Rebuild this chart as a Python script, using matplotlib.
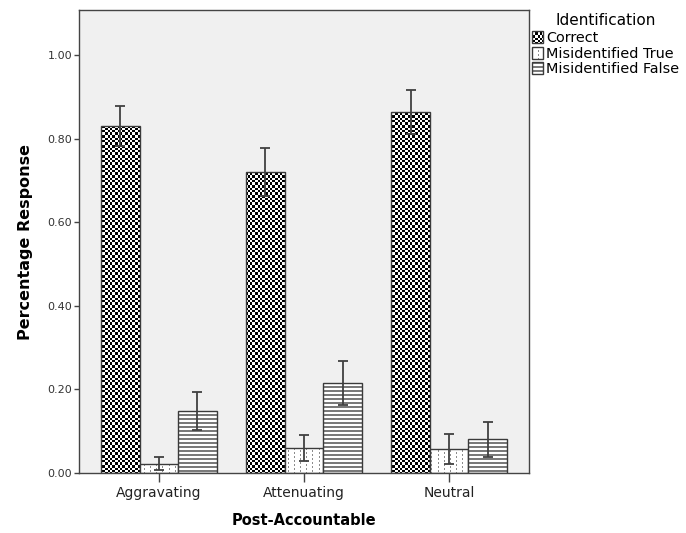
import warnings
warnings.filterwarnings("ignore")
import numpy as np
import matplotlib
matplotlib.use("Agg")
import matplotlib.pyplot as plt
import matplotlib.hatch as mhatch
from matplotlib.path import Path
from matplotlib.colors import to_rgba

# ---------------- data ----------------
categories = ["Aggravating", "Attenuating", "Neutral"]
series_names = ["Correct", "Misidentified True", "Misidentified False"]
correct = [0.830, 0.720, 0.864]
correct_err = [0.048, 0.058, 0.053]
mis_true = [0.022, 0.060, 0.057]
mis_true_err = [0.016, 0.032, 0.036]
mis_false = [0.148, 0.215, 0.081]
mis_false_err = [0.046, 0.052, 0.042]
y_ticks = [0.0, 0.2, 0.4, 0.6, 0.8, 1.0]


# ---------------- custom fill patterns ----------------
def _cell_edges():
    # 40 cells in a 100 px tile, pixel-aligned widths 2,3,3,2,...
    widths = [2, 3, 3, 2] * 10
    edges = np.concatenate([[0], np.cumsum(widths)]) / 100.0
    return edges


class PatternHatch(mhatch.HatchPatternBase):
    def __init__(self, hatch, density):
        rects = []
        if 'c' in hatch:  # checkerboard
            e = _cell_edges()
            n = len(e) - 1
            for i in range(n):
                for j in range(n):
                    if (i + j) % 2 == 0:
                        rects.append((e[i], e[j], e[i + 1] - e[i], e[j + 1] - e[j]))
        if 'h' in hatch:  # horizontal bands
            n = 25
            for j in range(n):
                rects.append((0.0, j / n, 1.0, 0.5 / n))
        if 'd' in hatch:  # sparse dots in columns
            ncol, nrow = 16, 25
            for i in range(ncol):
                xi = round(i * 100 / ncol) / 100.0
                for j in range(nrow):
                    off = 0.02 if i % 2 else 0.0
                    rects.append((xi, j / nrow + off, 0.01, 0.02))
        self.rects = rects
        self.num_vertices = 5 * len(rects)

    def set_vertices_and_codes(self, vertices, codes):
        for k, (x, y, w, h) in enumerate(self.rects):
            vertices[5 * k:5 * k + 5] = [(x, y), (x + w, y), (x + w, y + h),
                                         (x, y + h), (x, y)]
            codes[5 * k:5 * k + 5] = [Path.MOVETO, Path.LINETO, Path.LINETO,
                                      Path.LINETO, Path.CLOSEPOLY]


mhatch._hatch_types.append(PatternHatch)
plt.rcParams['hatch.linewidth'] = 0.0

# ---------------- figure ----------------
fig = plt.figure(figsize=(6.86, 5.33), dpi=100)
ax = fig.add_axes([79 / 686, 1 - 473 / 533, 450 / 686, 463 / 533])
ax.set_facecolor('#f0f0f0')

x = np.arange(len(categories))
w = 0.2655
edge = '#3a3a3a'
series = [(correct, correct_err, 'c', 'black'),
          (mis_true, mis_true_err, 'd', '#8c8c8c'),
          (mis_false, mis_false_err, 'h', '#7a7a7a')]

handles = []
for k, (vals, errs, hatch, hcol) in enumerate(series):
    bars = ax.bar(x + (k - 1) * w, vals, width=w, facecolor='white',
                  edgecolor=edge, linewidth=1.0, hatch=hatch,
                  label=series_names[k], zorder=2)
    for p in bars.patches:
        p._hatch_color = to_rgba(hcol)
    handles.append(bars)
    ax.errorbar(x + (k - 1) * w, vals, yerr=errs, fmt='none', ecolor='#404040',
                elinewidth=1.3, capsize=3.8, capthick=1.3, zorder=3)

ax.set_xlim(-0.55, 2.55)
ax.set_ylim(0, 1.108)
ax.set_yticks(y_ticks)
ax.set_yticklabels([f"{v:.2f}" for v in y_ticks], fontsize=8, color='#333333')
ax.set_xticks(x)
ax.set_xticklabels(categories, fontsize=10, color='#222222')
ax.tick_params(axis='y', length=3.5, width=1.0, color='#444444', pad=1.5)
ax.tick_params(axis='x', length=6.5, width=1.0, color='#444444', pad=3)
for s in ax.spines.values():
    s.set_color('#444444')
    s.set_linewidth(1.0)

ax.set_ylabel("Percentage Response", fontsize=11.5, fontweight='bold', labelpad=10)
ax.set_xlabel("Post-Accountable", fontsize=10.5, fontweight='bold', labelpad=9)

leg = ax.legend(handles=handles, labels=series_names, title="Identification",
                loc='upper left', bbox_to_anchor=(529 / 686, 1 - 10 / 533),
                bbox_transform=fig.transFigure, frameon=False, fontsize=10.4,
                title_fontsize=11, handlelength=0.8, handleheight=0.9,
                handletextpad=0.2, labelspacing=0.13, borderpad=0.2,
                borderaxespad=0)
leg._legend_box.sep = 2

fig.savefig("out.png", dpi=100)
